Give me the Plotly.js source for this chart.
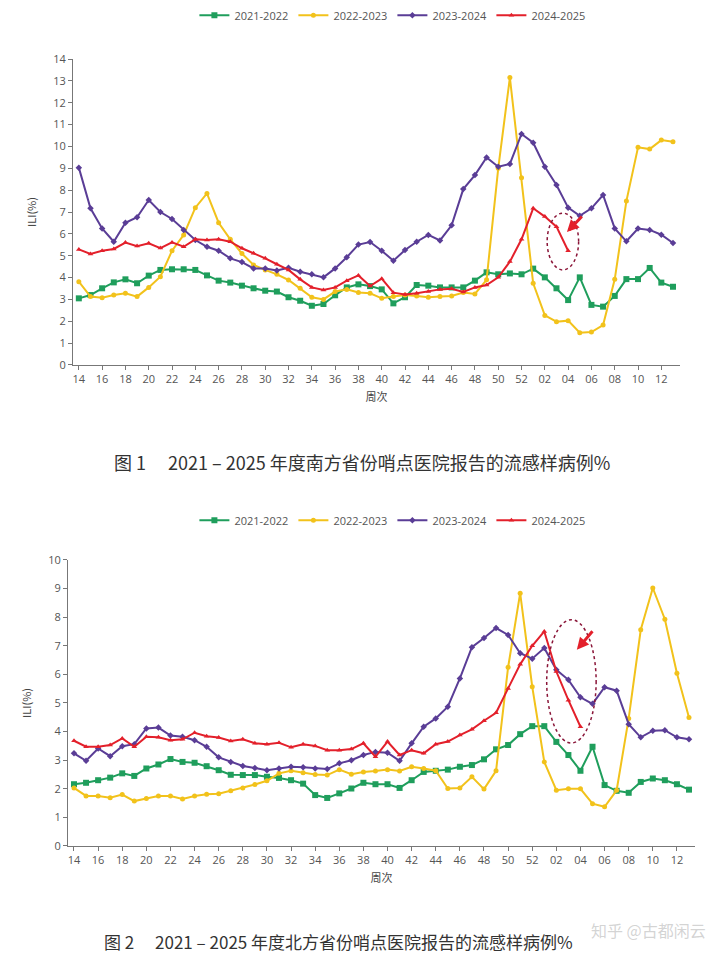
<!DOCTYPE html>
<html>
<head>
<meta charset="utf-8">
<script src="https://cdn.plot.ly/plotly-3.0.1.min.js"></script>
<style>html,body{margin:0;padding:0;background:#fff;}#chart{width:720px;height:960px;}</style>
</head>
<body>
<div id="chart"></div>
<script>
// Week categories (week 14 of one year to week 13 of the next)
const weeks = ["14","15","16","17","18","19","20","21","22","23","24","25","26","27","28","29","30","31","32","33","34","35","36","37","38","39","40","41","42","43","44","45","46","47","48","49","50","51","52","01","02","03","04","05","06","07","08","09","10","11","12","13"];
const tickWeeks = ["14","16","18","20","22","24","26","28","30","32","34","36","38","40","42","44","46","48","50","52","02","04","06","08","10","12"];
const seasons = ["2021-2022","2022-2023","2023-2024","2024-2025"];

// Figure 1: southern provinces ILI%
const south2122 = [3.05,3.2,3.51,3.78,3.92,3.74,4.09,4.35,4.38,4.38,4.35,4.10,3.86,3.77,3.63,3.51,3.40,3.36,3.10,2.94,2.71,2.79,3.19,3.55,3.69,3.61,3.46,2.82,3.10,3.66,3.63,3.55,3.55,3.55,3.86,4.24,4.15,4.19,4.15,4.41,4.01,3.51,2.97,4.01,2.75,2.67,3.16,3.93,3.93,4.44,3.77,3.58];
const south2223 = [3.81,3.13,3.08,3.2,3.28,3.13,3.55,4.04,5.23,5.95,7.2,7.85,6.51,5.75,5.1,4.58,4.35,4.15,3.89,3.51,3.10,3.0,3.36,3.46,3.32,3.28,3.05,3.13,3.2,3.16,3.10,3.13,3.16,3.32,3.25,3.9,9.0,13.15,8.57,3.74,2.27,1.98,2.03,1.48,1.51,1.83,3.92,7.5,9.96,9.88,10.29,10.22];
const south2324 = [9.03,7.17,6.25,5.64,6.51,6.76,7.55,7.0,6.68,6.18,5.72,5.41,5.23,4.88,4.71,4.42,4.42,4.32,4.45,4.27,4.15,4.01,4.42,4.93,5.51,5.63,5.23,4.77,5.26,5.64,5.95,5.70,6.39,8.05,8.69,9.50,9.07,9.2,10.57,10.17,9.07,8.24,7.2,6.83,7.17,7.78,6.25,5.66,6.24,6.18,5.96,5.58];
const south2425 = [5.29,5.08,5.23,5.31,5.60,5.44,5.57,5.35,5.61,5.41,5.75,5.72,5.75,5.64,5.34,5.11,4.88,4.61,4.35,3.92,3.55,3.43,3.55,3.86,4.10,3.61,3.95,3.31,3.23,3.28,3.36,3.46,3.49,3.34,3.55,3.66,4.01,4.73,5.75,7.17,6.79,6.33,5.23,null,null,null,null,null,null,null,null,null];

// Figure 2: northern provinces ILI%
const north2122 = [2.16,2.21,2.30,2.39,2.54,2.45,2.71,2.85,3.04,2.94,2.91,2.79,2.65,2.49,2.48,2.48,2.42,2.38,2.30,2.18,1.78,1.68,1.84,2.01,2.21,2.16,2.16,2.03,2.30,2.59,2.63,2.67,2.77,2.83,3.03,3.38,3.53,3.91,4.19,4.19,3.64,3.18,2.63,3.47,2.13,1.93,1.86,2.24,2.36,2.30,2.16,1.97];
const north2223 = [2.03,1.75,1.75,1.69,1.80,1.57,1.66,1.75,1.75,1.64,1.75,1.81,1.83,1.93,2.03,2.15,2.28,2.54,2.63,2.56,2.50,2.48,2.67,2.51,2.59,2.62,2.67,2.62,2.77,2.71,2.63,2.01,2.03,2.42,1.99,2.63,6.25,8.84,5.57,2.94,1.95,2.0,2.0,1.48,1.37,1.95,4.46,7.56,9.02,7.93,6.04,4.49];
const north2324 = [3.24,2.98,3.41,3.14,3.49,3.56,4.11,4.14,3.86,3.82,3.70,3.47,3.10,2.94,2.80,2.73,2.65,2.71,2.77,2.75,2.71,2.69,2.89,3.00,3.18,3.29,3.26,2.98,3.59,4.17,4.46,4.87,5.86,6.95,7.27,7.62,7.38,6.74,6.55,6.92,6.16,5.81,5.20,4.97,5.55,5.43,4.26,3.80,4.03,4.05,3.80,3.73];
const north2425 = [3.68,3.47,3.47,3.53,3.76,3.47,3.82,3.80,3.70,3.73,3.96,3.84,3.79,3.67,3.73,3.59,3.56,3.61,3.45,3.56,3.50,3.35,3.35,3.39,3.59,3.12,3.65,3.18,3.35,3.24,3.56,3.65,3.88,4.08,4.38,4.66,5.51,6.35,7.0,7.5,6.1,5.1,4.17,null,null,null,null,null,null,null,null,null];

const captions = [
  "图 1　 2021 – 2025 年度南方省份哨点医院报告的流感样病例%",
  "图 2　 2021 – 2025 年度北方省份哨点医院报告的流感样病例%"
];

const colors = ["#1f9e5c", "#f2c21b", "#5a3d96", "#e3202b"];
const symbols = ["square", "circle", "diamond", "triangle-up"];
const msizes = [6, 5, 5, 5];

const southSeries = [south2122, south2223, south2324, south2425];
const northSeries = [north2122, north2223, north2324, north2425];

const traces = [];
function addSet(series, xa, ya, legendId) {
  series.forEach((vals, k) => {
    traces.push({
      type: "scatter", mode: "lines+markers",
      x: weeks, y: vals, name: seasons[k],
      xaxis: xa, yaxis: ya, legend: legendId,
      line: {color: colors[k], width: 2},
      marker: {color: colors[k], symbol: symbols[k], size: msizes[k]},
      connectgaps: false
    });
  });
}
addSet(southSeries, "x", "y", "legend");
addSet(northSeries, "x2", "y2", "legend2");

const tickFont = {family: "Open Sans, DejaVu Sans, sans-serif", size: 11, color: "#555"};
const titleFont = {family: "Noto Sans CJK SC, Open Sans, sans-serif", size: 11, color: "#444"};

function xAxis(domain, range, anchor) {
  return {
    domain: domain, anchor: anchor, type: "category", range: range,
    categoryorder: "array", categoryarray: weeks,
    tickmode: "array", tickvals: tickWeeks, ticktext: tickWeeks,
    ticks: "outside", ticklen: 4, tickcolor: "#777", tickwidth: 1,
    showline: true, linecolor: "#777", linewidth: 1,
    showgrid: false, zeroline: false, tickfont: tickFont,
    title: {text: "周次", font: titleFont, standoff: 8}
  };
}
function yAxis(domain, range, anchor) {
  return {
    domain: domain, anchor: anchor, range: range, dtick: 1,
    ticks: "outside", ticklen: 4, tickcolor: "#777", tickwidth: 1,
    showline: true, linecolor: "#777", linewidth: 1,
    showgrid: false, zeroline: false, tickfont: tickFont,
    title: {text: "ILI(%)", font: titleFont, standoff: 14}
  };
}

const legendBase = {
  orientation: "h", xanchor: "center", yanchor: "middle", x: 0.545,
  font: {family: "Open Sans, DejaVu Sans, sans-serif", size: 11, color: "#555"},
  itemwidth: 30, entrywidth: 54, entrywidthmode: "pixels", bgcolor: "rgba(0,0,0,0)"
};

const ellipseStyle = {color: "#8a1538", width: 1.5, dash: "dot"};

const layout = {
  width: 720, height: 960,
  margin: {l: 0, r: 0, t: 0, b: 0},
  paper_bgcolor: "#fff", plot_bgcolor: "#fff",
  showlegend: true,
  xaxis: xAxis([0.1014, 0.9444], [-0.5, 51.6], "y"),
  yaxis: yAxis([0.6198, 0.9385], [0, 14], "x"),
  xaxis2: xAxis([0.0944, 0.9653], [-0.5, 51.5], "y2"),
  yaxis2: yAxis([0.11875, 0.4167], [0, 10], "x2"),
  legend: Object.assign({}, legendBase, {y: 0.984}),
  legend2: Object.assign({}, legendBase, {y: 0.458}),
  shapes: [
    {type: "circle", xref: "x", yref: "y", x0: 40.2, x1: 42.9, y0: 4.35, y1: 6.95, line: ellipseStyle},
    {type: "circle", xref: "x2", yref: "y2", x0: 39.2, x1: 43.3, y0: 3.6, y1: 7.91, line: ellipseStyle}
  ],
  annotations: [
    {xref: "x", yref: "y", x: 41.9, y: 6.08, axref: "x", ayref: "y", ax: 43.3, ay: 6.86,
     showarrow: true, arrowhead: 2, arrowsize: 0.8, arrowwidth: 3, arrowcolor: "#e3202b", text: ""},
    {xref: "x2", yref: "y2", x: 41.7, y: 6.86, axref: "x2", ayref: "y2", ax: 43.1, ay: 7.56,
     showarrow: true, arrowhead: 2, arrowsize: 0.8, arrowwidth: 3, arrowcolor: "#e3202b", text: ""},
    {xref: "paper", yref: "paper", x: 112/720, y: 1 - 462/960, xanchor: "left", yanchor: "middle",
     showarrow: false, text: captions[0],
     font: {family: "Noto Sans CJK SC, sans-serif", size: 18, color: "#333"}},
    {xref: "paper", yref: "paper", x: 102/720, y: 1 - 941/960, xanchor: "left", yanchor: "middle",
     showarrow: false, text: captions[1],
     font: {family: "Noto Sans CJK SC, sans-serif", size: 17, color: "#333"}},
    {xref: "paper", yref: "paper", x: 708/720, y: 1 - 930/960, xanchor: "right", yanchor: "middle",
     showarrow: false, text: "知乎 @古都闲云",
     font: {family: "Noto Sans CJK SC, sans-serif", size: 16, color: "rgba(175,175,175,0.55)"}}
  ]
};

Plotly.newPlot("chart", traces, layout, {displayModeBar: false, staticPlot: true});
</script>
</body>
</html>
